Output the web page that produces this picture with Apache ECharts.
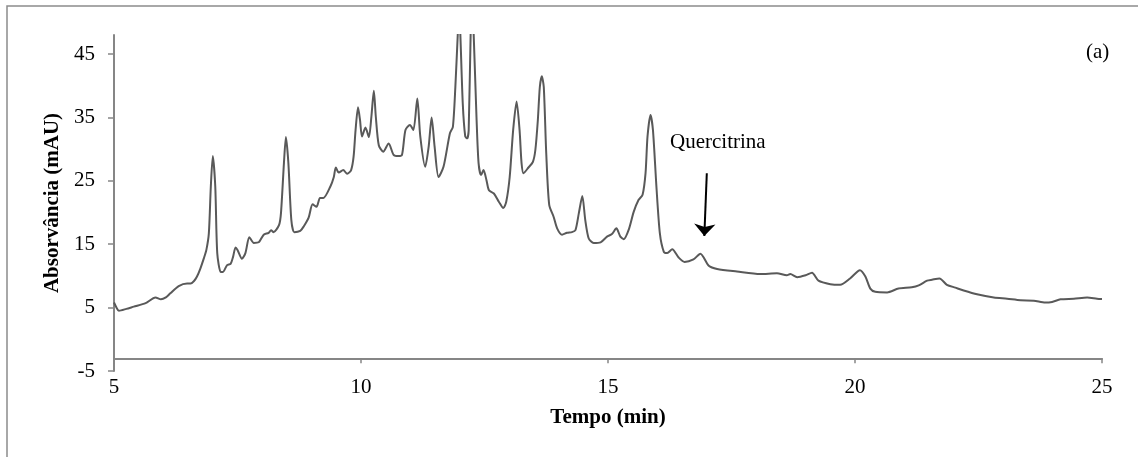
<!DOCTYPE html>
<html>
<head>
<meta charset="utf-8">
<script src="https://cdn.jsdelivr.net/npm/echarts@6/dist/echarts.min.js"></script>
<style>
  html, body { margin: 0; padding: 0; background: #fff; }
  #main { width: 1138px; height: 457px; }
</style>
</head>
<body>
<div id="main"></div>
<script>
// retention time (min) and absorbance (mAU)
const timeMin = [
  5.00, 5.05, 5.10, 5.25, 5.40, 5.64, 5.84, 5.95, 6.05, 6.14, 6.31, 6.48, 6.55, 6.62, 6.68, 6.75, 6.82, 6.87, 6.92, 6.96,
  7.00, 7.05, 7.09, 7.16, 7.20, 7.29, 7.36, 7.41, 7.46, 7.50, 7.59, 7.66, 7.74, 7.83, 7.93, 8.03, 8.13, 8.18, 8.23, 8.34,
  8.38, 8.44, 8.48, 8.53, 8.59, 8.65, 8.77, 8.84, 8.94, 9.02, 9.10, 9.17, 9.24, 9.38, 9.45, 9.49, 9.55, 9.64, 9.72, 9.80,
  9.85, 9.89, 9.94, 9.98, 10.02, 10.09, 10.16, 10.21, 10.26, 10.30, 10.36, 10.45, 10.56, 10.66, 10.76, 10.83, 10.90, 10.99, 11.06, 11.14,
  11.20, 11.30, 11.37, 11.43, 11.49, 11.57, 11.67, 11.80, 11.86, 11.91, 11.96, 11.985, 12.01, 12.06, 12.11, 12.15, 12.18, 12.22, 12.25, 12.28,
  12.34, 12.38, 12.43, 12.48, 12.54, 12.59, 12.69, 12.79, 12.88, 12.94, 13.01, 13.08, 13.15, 13.21, 13.25, 13.29, 13.39, 13.48, 13.53, 13.58,
  13.62, 13.66, 13.70, 13.75, 13.81, 13.90, 13.97, 14.07, 14.17, 14.27, 14.34, 14.41, 14.48, 14.54, 14.61, 14.71, 14.85, 14.98, 15.08, 15.17,
  15.25, 15.32, 15.42, 15.52, 15.62, 15.70, 15.76, 15.80, 15.86, 15.91, 15.98, 16.05, 16.13, 16.20, 16.30, 16.43, 16.55, 16.73, 16.87, 17.04,
  17.21, 17.61, 18.08, 18.42, 18.62, 18.69, 18.83, 19.00, 19.13, 19.26, 19.50, 19.70, 19.90, 20.10, 20.21, 20.31, 20.41, 20.65, 20.88, 21.15,
  21.29, 21.46, 21.56, 21.71, 21.86, 22.03, 22.20, 22.47, 22.81, 23.08, 23.35, 23.62, 23.85, 23.99, 24.16, 24.43, 24.70, 24.90, 25.00
];
const absorbance = [
  5.8, 5.0, 4.5, 4.8, 5.15, 5.7, 6.6, 6.3, 6.6, 7.25, 8.4, 8.8, 8.8, 9.2, 9.9, 11.2, 12.8, 14.1, 16.7, 24.1,
  28.9, 24.1, 13.6, 10.6, 10.6, 11.7, 11.9, 13.0, 14.5, 14.1, 12.7, 13.6, 16.1, 15.2, 15.3, 16.5, 16.8, 17.2, 16.9, 18.0,
  19.9, 27.8, 31.9, 27.8, 18.8, 16.9, 17.1, 17.8, 19.2, 21.3, 20.9, 22.3, 22.3, 24.1, 25.6, 27.1, 26.3, 26.7, 26.1, 26.7,
  28.8, 33.0, 36.6, 34.6, 32.0, 33.4, 31.9, 35.1, 39.2, 35.1, 30.6, 29.6, 30.9, 29.1, 28.9, 29.1, 33.0, 33.8, 33.0, 38.0,
  32.0, 27.2, 30.4, 35.0, 30.4, 25.6, 27.2, 32.5, 33.5, 39.8, 48.3, 52.0, 48.3, 37.2, 32.0, 31.7, 33.0, 48.3, 53.0, 48.3,
  34.6, 27.8, 25.9, 26.7, 25.1, 23.5, 23.0, 21.7, 20.7, 21.7, 25.6, 33.0, 37.5, 33.0, 27.8, 26.2, 27.1, 28.0, 29.9, 34.6,
  39.8, 41.5, 39.8, 29.3, 21.2, 19.3, 17.5, 16.5, 16.8, 16.9, 17.2, 19.9, 22.6, 18.8, 15.9, 15.2, 15.3, 16.2, 16.6, 17.5,
  16.2, 15.8, 17.3, 20.1, 22.0, 22.8, 26.2, 32.0, 35.4, 33.0, 24.1, 16.7, 13.8, 13.6, 14.2, 12.9, 12.2, 12.6, 13.5, 11.6,
  11.1, 10.7, 10.3, 10.4, 10.1, 10.3, 9.8, 10.1, 10.5, 9.25, 8.7, 8.6, 9.6, 10.9, 9.9, 8.0, 7.5, 7.4, 8.0, 8.2,
  8.5, 9.25, 9.4, 9.6, 8.6, 8.15, 7.7, 7.1, 6.6, 6.4, 6.15, 6.1, 5.8, 5.9, 6.3, 6.4, 6.6, 6.4, 6.35
];
const yTicks = [-5, 5, 15, 25, 35, 45];
const xTicks = [5, 10, 15, 20, 25];
// arrow pointing at the quercitrin peak: [time, absorbance] start and tip
const arrowFrom = [17.0, 26.2];
const arrowTo = [16.95, 16.3];

const FONT = '"Liberation Serif", "Times New Roman", serif';
const AXIS_GRAY = '#868686';

const chart = echarts.init(document.getElementById('main'), null, { renderer: 'canvas' });

chart.setOption({
  animation: false,
  backgroundColor: '#fff',
  grid: { left: 114, right: 36, top: 35, bottom: 86 },
  graphic: [
    {
      type: 'rect',
      shape: { x: 7, y: 6, width: 1200, height: 500 },
      style: { fill: 'none', stroke: '#8c8c8c', lineWidth: 1.5 },
      silent: true
    },
    {
      type: 'text',
      left: 1086, top: 42,
      style: { text: '(a)', font: '21px ' + FONT, fill: '#000' }
    },
    {
      type: 'text',
      left: 670, top: 132,
      style: { text: 'Quercitrina', font: '21px ' + FONT, fill: '#000' }
    }
  ],
  xAxis: {
    type: 'value',
    min: 5,
    max: 25,
    interval: 5,
    name: 'Tempo (min)',
    nameLocation: 'middle',
    nameGap: 36,
    nameTextStyle: { fontFamily: FONT, fontSize: 21, fontWeight: 'bold', color: '#000' },
    axisLine: { onZero: true, onZeroAxisIndex: 1, lineStyle: { color: AXIS_GRAY, width: 2 } },
    axisTick: { show: true, length: 5, lineStyle: { color: AXIS_GRAY, width: 1.5 }, customValues: xTicks },
    axisLabel: { fontFamily: FONT, fontSize: 21, color: '#000', margin: 6, customValues: xTicks },
    splitLine: { show: false }
  },
  yAxis: [
    {
      type: 'value',
      min: -5,
      max: 48,
      interval: 10,
      name: 'Absorvância (mAU)',
      nameLocation: 'middle',
      nameGap: 50,
      nameRotate: 90,
      nameTextStyle: { fontFamily: FONT, fontSize: 21, fontWeight: 'bold', color: '#000' },
      axisLine: { show: true, lineStyle: { color: AXIS_GRAY, width: 2 } },
      axisTick: { show: true, length: 6, lineStyle: { color: AXIS_GRAY, width: 1.5 }, customValues: yTicks },
      axisLabel: { fontFamily: FONT, fontSize: 21, color: '#000', margin: 19, customValues: yTicks },
      splitLine: { show: false }
    },
    {
      // hidden helper axis: its zero sits where the horizontal axis line crosses (about -3 mAU)
      type: 'value',
      min: -2,
      max: 51,
      show: false
    }
  ],
  series: [
    {
      type: 'line',
      data: timeMin.map((t, i) => [t, absorbance[i]]),
      showSymbol: false,
      symbol: 'none',
      smooth: 0.25,
      clip: true,
      lineStyle: { color: '#595959', width: 2 },
      markLine: {
        silent: true,
        symbol: ['none', 'arrow'],
        symbolSize: [16, 12],
        label: { show: false },
        lineStyle: { color: '#000', width: 2, type: 'solid' },
        data: [[{ coord: arrowFrom }, { coord: arrowTo }]]
      }
    }
  ]
});
</script>
</body>
</html>
